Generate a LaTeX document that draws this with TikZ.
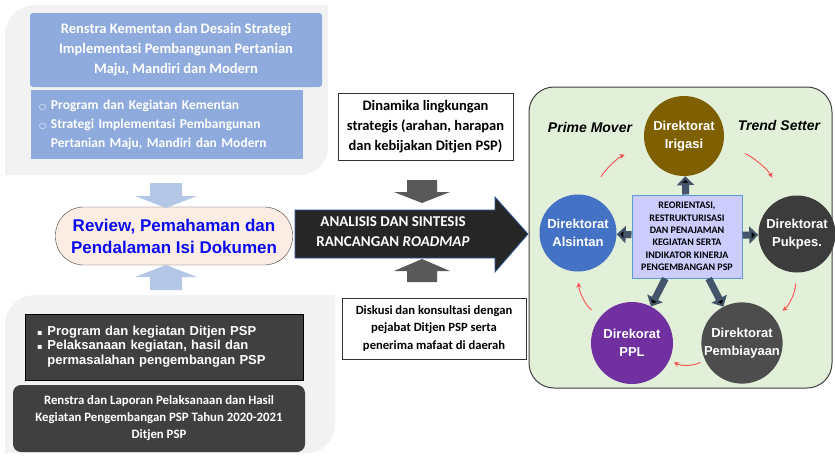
\documentclass[tikz,border=0pt]{standalone}
\usepackage{fontspec}
\setmainfont{Carlito}
\newfontfamily\arialfont{Liberation Sans}
\newfontfamily\glyphfont{DejaVu Sans}
\usetikzlibrary{arrows.meta,positioning}
\definecolor{panelgray}{HTML}{F2F2F2}
\definecolor{boxblue}{HTML}{8FAADC}
\definecolor{paleblue}{HTML}{B4C7E7}
\definecolor{peach}{HTML}{FBEDE4}
\definecolor{reviewblue}{HTML}{0A0AF0}
\definecolor{boxdark}{HTML}{404040}
\definecolor{arrowgray}{HTML}{595959}
\definecolor{bigarrow}{HTML}{262626}
\definecolor{arrowedge}{HTML}{2F5597}
\definecolor{panelgreen}{HTML}{E2F0D9}
\definecolor{irigasi}{HTML}{7F6000}
\definecolor{alsintan}{HTML}{4472C4}
\definecolor{pukpes}{HTML}{3C3C3C}
\definecolor{biaya}{HTML}{4D4D4D}
\definecolor{ppl}{HTML}{7030A0}
\definecolor{corefill}{HTML}{CCCCFF}
\definecolor{coreedge}{HTML}{5B9BD5}
\definecolor{fatblue}{HTML}{44546A}
\definecolor{cycred}{HTML}{FF5050}

\begin{document}
\begin{tikzpicture}[x=1pt,y=-1pt,>={Stealth[length=5pt,width=5pt]},
  bluebox/.style={fill=boxblue,text=white,inner sep=0pt},
  darkbox/.style={fill=boxdark,text=white,inner sep=0pt},
  notebox/.style={draw=black!80,fill=white,inner sep=0pt,align=center},
  dir/.style={circle,minimum size=79pt,inner sep=0pt,text=white,align=center,
    font=\arialfont\bfseries\fontsize{13}{17.5}\selectfont},
  fat/.style={draw=fatblue,line width=7pt,-{Triangle[width=17pt,length=9pt]}},
  cyc/.style={draw=cycred,line width=0.9pt,->,bend left=25}]
\useasboundingbox (0,0) rectangle (835,455);

% background panels
\fill[panelgray] (5,175) -- (5,35) .. controls (5,18.4) and (18.4,5) .. (35,5)
  -- (328,5) -- (328,147) .. controls (328,162.5) and (315.5,175) .. (300,175) -- cycle;
\fill[panelgray] (5,460) -- (5,325) .. controls (5,308.4) and (18.4,295) .. (35,295)
  -- (335,295) -- (335,425) .. controls (335,440.5) and (322.5,453) .. (307,453) -- (5,453) -- cycle;
\filldraw[fill=panelgreen,draw=boxdark,line width=1pt,rounded corners=25pt] (529,87) rectangle (832,388);

% left column
\node[bluebox,rounded corners=3pt,minimum width=292pt,minimum height=74pt,align=center,
  font=\bfseries\fontsize{14.5}{20}\selectfont] (renstra) at (176,50)
  {Renstra Kementan dan Desain Strategi\\Implementasi Pembangunan Pertanian\\Maju, Mandiri dan Modern};
\node[bluebox,minimum width=272pt,minimum height=69pt,text width=256pt,align=left,
  font=\bfseries\fontsize{13.5}{19}\selectfont] (program) at (167,124.5)
  {\begin{tabular}{@{}l@{\hspace{5pt}}l@{}}
   {\glyphfont\fontsize{8}{8}\selectfont ○} & Program dan Kegiatan Kementan\\
   {\glyphfont\fontsize{8}{8}\selectfont ○} & Strategi Implementasi Pembangunan\\
   & Pertanian Maju, Mandiri dan Modern
   \end{tabular}};
\node[draw=black!75,fill=peach,rounded corners=28pt,minimum width=237pt,minimum height=58pt,
  text=reviewblue,align=center,font=\arialfont\bfseries\fontsize{17}{22}\selectfont] (review) at (174,236)
  {Review, Pemahaman dan\\Pendalaman Isi Dokumen};
\node[darkbox,draw=black,minimum width=278pt,minimum height=66pt,text width=254pt,align=left,
  font=\arialfont\bfseries\fontsize{13}{14.5}\selectfont] (ditjen) at (164,347)
  {\begin{tabular}{@{}l@{\hspace{5pt}}l@{}}
   {\glyphfont\fontsize{8}{8}\selectfont ▪} & Program dan kegiatan Ditjen PSP\\
   {\glyphfont\fontsize{8}{8}\selectfont ▪} & Pelaksanaan kegiatan, hasil dan\\
   & permasalahan pengembangan PSP
   \end{tabular}};
\node[darkbox,rounded corners=8pt,minimum width=292pt,minimum height=67pt,align=center,
  font=\bfseries\fontsize{12.8}{17}\selectfont] (laporan) at (159,418.5)
  {Renstra dan Laporan Pelaksanaan dan Hasil\\Kegiatan Pengembangan PSP Tahun 2020-2021\\Ditjen PSP};

% block arrows into the review
\fill[paleblue] (150,183) -- (182,183) -- (182,196) -- (197,196) -- (166,208) -- (135,196) -- (150,196) -- cycle;
\fill[paleblue] (166,265) -- (197,277) -- (182,277) -- (182,290) -- (150,290) -- (150,277) -- (135,277) -- cycle;

% middle column
\node[notebox,minimum width=175pt,minimum height=67pt,font=\bfseries\fontsize{14.5}{20}\selectfont] (dinamika) at (425.5,126.5)
  {Dinamika lingkungan\\strategis (arahan, harapan\\dan kebijakan Ditjen PSP)};
\node[notebox,minimum width=184pt,minimum height=61pt,font=\bfseries\fontsize{12.6}{17.5}\selectfont] (diskusi) at (434,328.5)
  {Diskusi dan konsultasi dengan\\pejabat Ditjen PSP serta\\penerima mafaat di daerah};
\filldraw[fill=bigarrow,draw=arrowedge,line width=0.8pt] (295,210) -- (495,210) -- (495,197) -- (528,234)
  -- (495,272) -- (495,258) -- (295,258) -- cycle;
\node[text=white,align=center,font=\bfseries\fontsize{15}{20}\selectfont] (analisis) at (393,232)
  {ANALISIS DAN SINTESIS\\RANCANGAN \textit{ROADMAP}};
\fill[arrowgray] (407,180) -- (437,180) -- (437,192) -- (450,192) -- (422,203) -- (394,192) -- (407,192) -- cycle;
\fill[arrowgray] (422,259) -- (450,271) -- (437,271) -- (437,282) -- (407,282) -- (407,271) -- (394,271) -- cycle;

% right panel
\node[draw=coreedge,line width=1pt,fill=corefill,minimum width=110pt,minimum height=83pt,inner sep=0pt,
  align=center,font=\bfseries\fontsize{10}{12.4}\selectfont] (core) at (687,236.5)
  {REORIENTASI,\\RESTRUKTURISASI\\DAN PENAJAMAN\\KEGIATAN SERTA\\INDIKATOR KINERJA\\PENGEMBANGAN PSP};
\node[dir,fill=irigasi,minimum size=80pt] (irigasi) at (684,136) {Direktorat\\Irigasi};
\node[dir,fill=alsintan,minimum size=77pt] (alsintan) at (578,233) {Direktorat\\Alsintan};
\node[dir,fill=pukpes,minimum size=77pt] (pukpes) at (797,234) {Direktorat\\Pukpes.};
\node[dir,fill=biaya,minimum size=80pt] (biaya) at (742,343) {Direktorat\\Pembiayaan};
\node[dir,fill=ppl,minimum size=82pt] (ppl) at (632,343) {Direkorat\\PPL};
\node[font=\arialfont\bfseries\itshape\fontsize{14}{14}\selectfont] (prime) at (590,127) {Prime Mover};
\node[font=\arialfont\bfseries\itshape\fontsize{14}{14}\selectfont] (trend) at (779,125) {Trend Setter};

\path[fat] (core) edge (irigasi) edge (alsintan) edge (pukpes) edge (ppl) edge (biaya);
\path[cyc] (alsintan) edge[shorten <=22pt,shorten >=22pt] (irigasi)
  (irigasi) edge[shorten <=23pt,shorten >=23pt] (pukpes)
  (pukpes) edge[shorten <=11pt,shorten >=11pt] (biaya)
  (biaya) edge[shorten <=5pt,shorten >=5pt] (ppl)
  (ppl) edge[shorten <=11pt,shorten >=11pt] (alsintan);
\end{tikzpicture}
\end{document}
